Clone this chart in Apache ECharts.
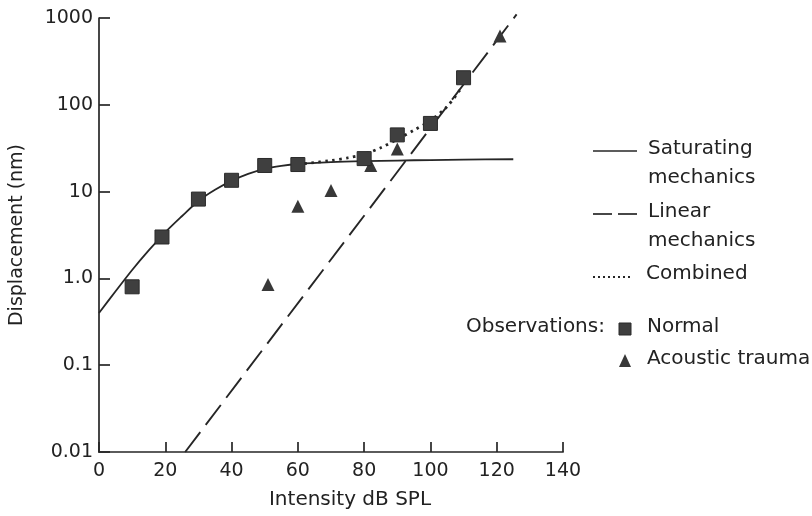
<!DOCTYPE html>
<html>
<head>
<meta charset="utf-8">
<script src="https://cdn.jsdelivr.net/npm/echarts@6/dist/echarts.min.js"></script>
<style>
  html, body { margin: 0; padding: 0; background: #fff; }
  #chart { width: 812px; height: 516px; }
</style>
</head>
<body>
<div id="chart"></div>
<script>
// Observed displacement, normal cochlea
const intensityNormal = [10, 19, 30, 40, 50, 60, 80, 90, 100, 110];
const displacementNormal = [0.8, 3.0, 8.2, 13.5, 20, 20.5, 24, 45, 61, 205];

// Observed displacement after acoustic trauma
const intensityTrauma = [51, 60, 70, 82, 90, 121];
const displacementTrauma = [0.85, 6.8, 10.3, 20, 31, 620];

// Saturating mechanics curve
const satIntensity = [0, 5, 10, 15, 20, 25, 30, 35, 40, 45, 50, 55, 60, 70, 80, 90, 100, 110, 125];
const satDisplacement = [0.4, 0.71, 1.25, 2.1, 3.4, 5.2, 7.8, 10.5, 13.3, 16, 18.3, 19.8, 20.8, 21.8, 22.4, 22.8, 23.1, 23.4, 23.6];

// Linear mechanics line
const linIntensity = [26, 126];
const linDisplacement = [0.01, 1100];

// Combined curve
const combIntensity = [62, 70, 75, 80, 85, 90, 95, 100, 105, 109];
const combDisplacement = [21, 22.8, 24.5, 27, 32, 40, 51, 66, 95, 150];

// Axis tick labels
const xTicks = [0, 20, 40, 60, 80, 100, 120, 140];
const yTickLabels = { '0.01': '0.01', '0.1': '0.1', '1': '1.0', '10': '10', '100': '100', '1000': '1000' };

const FONT = 'DejaVu Sans';
const INK = '#222222';
const LINE = '#262626';
const MARK = '#383838';

const pairs = (xs, ys) => xs.map((x, i) => [x, ys[i]]);

const chart = echarts.init(document.getElementById('chart'), null, { renderer: 'canvas' });

function legendText(text, x, y) {
  return { type: 'text', left: x, top: y - 12, style: { text: text, font: '20px "DejaVu Sans"', fill: INK } };
}

chart.setOption({
  backgroundColor: '#ffffff',
  animation: false,
  grid: { left: 96, right: 249, top: 18, bottom: 64 },
  xAxis: {
    type: 'value',
    min: xTicks[0],
    max: xTicks[xTicks.length - 1],
    interval: 20,
    name: 'Intensity dB SPL',
    nameLocation: 'middle',
    nameGap: 38,
    nameTextStyle: { fontFamily: FONT, fontSize: 20, color: INK, padding: [0, 0, 0, 38] },
    axisLine: { lineStyle: { color: LINE, width: 1.7 } },
    axisTick: { inside: true, length: 10, lineStyle: { color: LINE, width: 1.7 } },
    axisLabel: { fontFamily: FONT, fontSize: 19, color: INK, margin: 10 },
    splitLine: { show: false }
  },
  yAxis: {
    type: 'log',
    logBase: 10,
    min: 0.01,
    max: 1000,
    name: 'Displacement (nm)',
    nameLocation: 'middle',
    nameGap: 62,
    nameTextStyle: { fontFamily: FONT, fontSize: 19, color: INK, padding: [0, 0, 10, 0] },
    axisLine: { show: true, lineStyle: { color: LINE, width: 1.7 } },
    axisTick: { show: true, inside: true, length: 11, lineStyle: { color: LINE, width: 1.7 } },
    minorTick: { show: false },
    axisLabel: {
      fontFamily: FONT, fontSize: 19, color: INK, margin: 6,
      formatter: v => yTickLabels[String(+v.toPrecision(6))] || ''
    },
    splitLine: { show: false }
  },
  series: [
    {
      name: 'Saturating mechanics',
      type: 'line',
      data: pairs(satIntensity, satDisplacement),
      smooth: 0.3,
      symbol: 'none',
      lineStyle: { color: LINE, width: 1.8 },
      z: 2
    },
    {
      name: 'Linear mechanics',
      type: 'line',
      data: pairs(linIntensity, linDisplacement),
      symbol: 'none',
      clip: false,
      lineStyle: { color: LINE, width: 1.9, type: [25, 9] },
      z: 2
    },
    {
      name: 'Combined',
      type: 'line',
      data: pairs(combIntensity, combDisplacement),
      smooth: 0.3,
      symbol: 'none',
      lineStyle: { color: LINE, width: 2.8, type: [2.5, 4.5] },
      z: 2
    },
    {
      name: 'Normal',
      type: 'scatter',
      data: pairs(intensityNormal, displacementNormal),
      symbol: 'rect',
      symbolSize: 14,
      itemStyle: { color: '#3f3f3f', borderColor: '#2a2a2a', borderWidth: 1, opacity: 1 },
      z: 4
    },
    {
      name: 'Acoustic trauma',
      type: 'scatter',
      data: pairs(intensityTrauma, displacementTrauma),
      symbol: 'triangle',
      symbolSize: 13,
      itemStyle: { color: MARK, opacity: 1 },
      z: 3
    }
  ],
  graphic: [
    // Saturating
    { type: 'line', shape: { x1: 593, y1: 151, x2: 637, y2: 151 }, style: { stroke: LINE, lineWidth: 1.6 } },
    legendText('Saturating', 648, 151),
    legendText('mechanics', 648, 180),
    // Linear
    { type: 'line', shape: { x1: 593, y1: 214, x2: 612, y2: 214 }, style: { stroke: LINE, lineWidth: 1.7 } },
    { type: 'line', shape: { x1: 618, y1: 214, x2: 637, y2: 214 }, style: { stroke: LINE, lineWidth: 1.7 } },
    legendText('Linear', 648, 214),
    legendText('mechanics', 648, 243),
    // Combined
    { type: 'line', shape: { x1: 593, y1: 277, x2: 630, y2: 277 }, style: { stroke: LINE, lineWidth: 2, lineDash: [2, 3] } },
    legendText('Combined', 646, 276),
    // Observations
    legendText('Observations:', 466, 329),
    { type: 'rect', shape: { x: 619, y: 323, width: 12, height: 12 }, style: { fill: '#3f3f3f', stroke: '#2a2a2a', lineWidth: 1 } },
    legendText('Normal', 647, 329),
    { type: 'polygon', shape: { points: [[625, 354], [631, 367], [619, 367]] }, style: { fill: MARK } },
    legendText('Acoustic trauma', 647, 361)
  ]
});
</script>
</body>
</html>
